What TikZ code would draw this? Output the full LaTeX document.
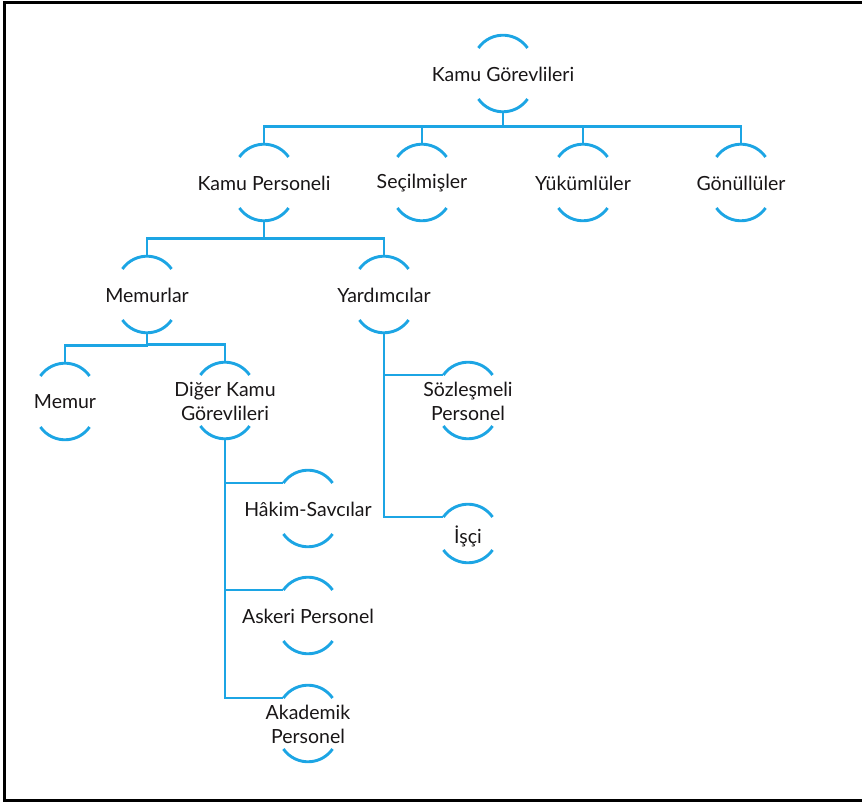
\documentclass[tikz,border=0pt]{standalone}
\usepackage{fontspec}
\setmainfont{Lato}
\definecolor{linec}{RGB}{28,165,228}
\definecolor{textc}{RGB}{25,22,23}
\newcommand{\arcpair}[3]{%
  \draw[arcline] ([shift={(-24.6,#2)}]#1.center) arc[start angle=145,end angle=35,radius=30];
  \draw[arcline] ([shift={(-24.6,-#3)}]#1.center) arc[start angle=215,end angle=325,radius=30];
  \coordinate (#1-top) at ([shift={(0,#2+12.8)}]#1.center);
  \coordinate (#1-bot) at ([shift={(0,-#3-12.8)}]#1.center);
  \coordinate (#1-tl) at ([shift={(-24.6,#2)}]#1.center);
}
\begin{document}
\begin{tikzpicture}[x=1pt,y=1pt,
  lbl/.style={font=\fontsize{19.5}{24}\selectfont, text=textc, align=center, inner sep=0pt},
  arcline/.style={draw=linec, line width=2.9pt},
  conn/.style={draw=linec, line width=2.9pt},
  frame/.style={draw=black, line width=3pt}]
\useasboundingbox (0,0) rectangle (862,803);
\draw[frame] (866,800.5) -- (4.3,800.5) -- (4.3,2) -- (866,2);

\node[lbl] (kg) at (503,729) {Kamu Görevlileri};
\node[lbl] (kp) at (264,620) {Kamu Personeli};
\node[lbl] (sec) at (422,620) {Seçilmişler};
\node[lbl] (yuk) at (583,620) {Yükümlüler};
\node[lbl] (gon) at (741,620) {Gönüllüler};
\node[lbl] (mem) at (147,508) {Memurlar};
\node[lbl] (yar) at (384,508) {Yardımcılar};
\node[lbl] (memur) at (65,401) {Memur};
\node[lbl] (diger) at (225,402) {Diğer Kamu\\Görevlileri};
\node[lbl] (soz) at (468,402) {Sözleşmeli\\Personel};
\node[lbl] (isci) at (468,267) {İşçi};
\node[lbl] (hakim) at (308,294) {Hâkim-Savcılar};
\node[lbl] (askeri) at (308,187) {Askeri Personel};
\node[lbl] (akad) at (308,79) {Akademik\\Personel};

\arcpair{kg}{26}{25}
\arcpair{kp}{26}{25}
\arcpair{sec}{26}{25}
\arcpair{yuk}{26}{25}
\arcpair{gon}{26}{25}
\arcpair{mem}{26}{25}
\arcpair{yar}{26}{25}
\arcpair{memur}{26}{25}
\arcpair{diger}{26}{25}
\arcpair{soz}{26}{25}
\arcpair{isci}{19}{14}
\arcpair{hakim}{26}{25}
\arcpair{askeri}{26}{25}
\arcpair{akad}{26}{25}

\draw[conn] (kp-top) -- ++(0,18) -| (kg-bot);
\draw[conn] (sec-top) -- ++(0,18) -| (kg-bot);
\draw[conn] (yuk-top) -- ++(0,18) -| (kg-bot);
\draw[conn] (gon-top) -- ++(0,18) -| (kg-bot);

\draw[conn] (mem-top) -- ++(0,18) -| (kp-bot);
\draw[conn] (yar-top) -- ++(0,18) -| (kp-bot);

\draw[conn] (memur-top) -- ++(0,18) -| (mem-bot);
\draw[conn] (diger-top) -- ++(0,18) -| (mem-bot);

\draw[conn] (diger-bot) |- (hakim-tl);
\draw[conn] (diger-bot) |- (askeri-tl);
\draw[conn] (diger-bot) |- (akad-tl);

\draw[conn] (yar-bot) |- (soz-tl);
\draw[conn] (yar-bot) |- (isci-tl);
\end{tikzpicture}
\end{document}
